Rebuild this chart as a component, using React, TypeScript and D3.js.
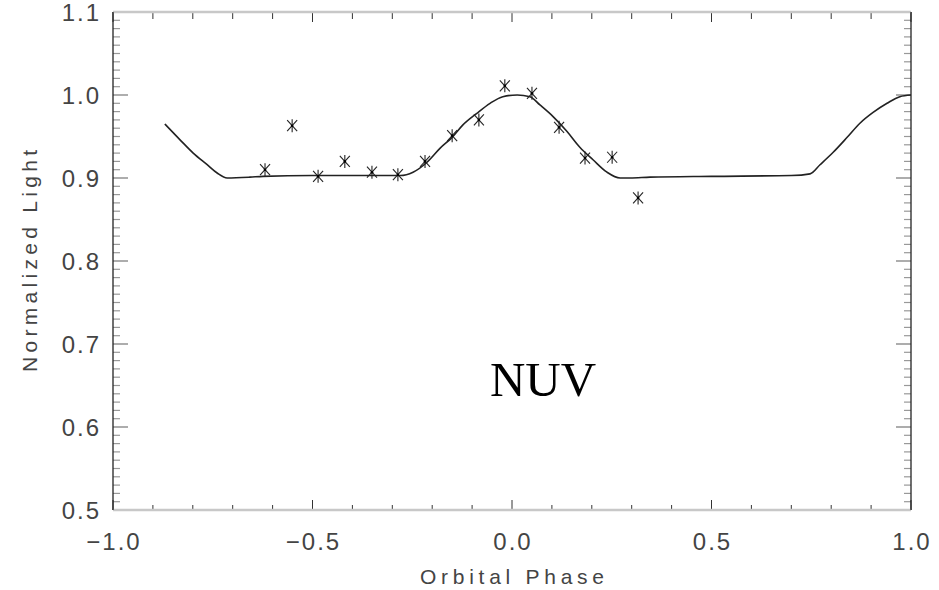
import React from "react";
import * as d3 from "d3";

// observed NUV points
const obsPhase = [-0.619, -0.551, -0.486, -0.419, -0.351, -0.286, -0.218, -0.150, -0.083, -0.018, 0.050, 0.118, 0.183, 0.251, 0.316];
const obsLight = [0.910, 0.963, 0.902, 0.920, 0.907, 0.904, 0.920, 0.951, 0.970, 1.011, 1.002, 0.961, 0.924, 0.925, 0.876];

// model curve
const modelPhase = [-0.870, -0.832, -0.799, -0.764, -0.739, -0.714, -0.657, -0.624, -0.5, -0.35, -0.28, -0.248, -0.213, -0.180, -0.150, -0.123, -0.088, -0.055, -0.023, 0.013, 0.045, 0.070, 0.103, 0.138, 0.170, 0.203, 0.238, 0.271, 0.296, 0.346, 0.5, 0.7, 0.747, 0.772, 0.805, 0.840, 0.872, 0.905, 0.940, 0.972, 1.0];
const modelLight = [0.965, 0.946, 0.930, 0.916, 0.906, 0.900, 0.901, 0.902, 0.903, 0.903, 0.903, 0.907, 0.919, 0.936, 0.949, 0.964, 0.978, 0.990, 0.998, 1.000, 0.998, 0.988, 0.974, 0.956, 0.937, 0.922, 0.907, 0.900, 0.900, 0.901, 0.902, 0.903, 0.905, 0.916, 0.931, 0.949, 0.966, 0.979, 0.990, 0.998, 1.000];

const xMajor = [-1.0, -0.5, 0.0, 0.5, 1.0];
const xLabels = ["\u22121.0", "\u22120.5", "0.0", "0.5", "1.0"];
const yMajor = [0.5, 0.6, 0.7, 0.8, 0.9, 1.0, 1.1];

const W = 939, H = 590;
const left = 113, right = 911, top = 12, bottom = 510;

const App = () => {
  const x = d3.scaleLinear().domain([-1, 1]).range([left, right]);
  const y = d3.scaleLinear().domain([0.5, 1.1]).range([bottom, top]);

  const xMinor = d3.range(-10, 11).map(i => i / 10);
  const yMinor = d3.range(50, 111).map(i => i / 100);
  const isMajorY = (v: number) => Math.abs(v * 10 - Math.round(v * 10)) < 1e-6;
  const isMajorX = (v: number) => Math.abs(v * 2 - Math.round(v * 2)) < 1e-6;

  const line = d3.line<number>()
    .x(d => x(modelPhase[d]))
    .y(d => y(modelLight[d]))
    .curve(d3.curveMonotoneX);
  const modelPath = line(modelPhase.map((_, i) => i)) || "";

  const font = "'Liberation Sans', Arial, sans-serif";

  return (
    <svg width={W} height={H} style={{ position: "absolute", left: 0, top: 0, background: "#fff" }}>
      {/* y ticks, left and right */}
      {yMinor.map((v, i) => {
        const major = isMajorY(v);
        const len = major ? 15 : 7;
        return (
          <g key={"yt" + i} stroke={major ? "#777" : "#999"} strokeWidth={1.2}>
            <line x1={left} x2={left + len} y1={y(v)} y2={y(v)} />
            <line x1={right} x2={right - len} y1={y(v)} y2={y(v)} />
          </g>
        );
      })}
      {/* x ticks, bottom and top */}
      {xMinor.map((v, i) => {
        const major = isMajorX(v);
        return (
          <g key={"xt" + i} stroke="#333" strokeWidth={1}>
            <line x1={x(v)} x2={x(v)} y1={bottom} y2={bottom - (major ? 10 : 5)} />
            <line x1={x(v)} x2={x(v)} y1={top} y2={top + (major ? 10 : 7)} />
          </g>
        );
      })}
      {/* frame */}
      <line x1={left} x2={right} y1={bottom} y2={bottom} stroke="#c8c8c8" strokeWidth={2.5} />
      <line x1={left} x2={right} y1={top} y2={top} stroke="#c8c8c8" strokeWidth={2.5} />
      <line x1={left} x2={left} y1={top} y2={bottom} stroke="#222" strokeWidth={1.3} />
      <line x1={right} x2={right} y1={top} y2={bottom} stroke="#222" strokeWidth={1.3} />

      {/* tick labels */}
      {yMajor.map((v, i) => (
        <text key={"yl" + i} x={101} y={y(v)} dy="0.36em" textAnchor="end"
          fontFamily={font} fontSize={24} fill="#444" letterSpacing={2}>
          {v.toFixed(1)}
        </text>
      ))}
      {xMajor.map((v, i) => (
        <text key={"xl" + i} x={x(v) + 1} y={550} textAnchor="middle"
          fontFamily={font} fontSize={24} fill="#444" letterSpacing={2}>
          {xLabels[i]}
        </text>
      ))}

      {/* axis titles */}
      <text x={512} y={584} textAnchor="middle" fontFamily={font} fontSize={21}
        fill="#444" textLength={184} lengthAdjust="spacing">Orbital Phase</text>
      <text transform="translate(37,261) rotate(-90)" textAnchor="middle" fontFamily={font}
        fontSize={21} fill="#444" textLength={222} lengthAdjust="spacing">Normalized Light</text>

      {/* model curve */}
      <path d={modelPath} fill="none" stroke="#222" strokeWidth={1.6} />

      {/* asterisks */}
      {obsPhase.map((p, i) => {
        const cx = x(p), cy = y(obsLight[i]);
        return (
          <g key={"pt" + i} transform={`translate(${cx},${cy})`} stroke="#222" strokeWidth={1.1}>
            <line x1={0} x2={0} y1={-6.5} y2={6.5} />
            <line x1={-5} x2={5} y1={-5.5} y2={5.5} />
            <line x1={-5} x2={5} y1={5.5} y2={-5.5} />
            <circle r={1.3} fill="#000" stroke="none" />
          </g>
        );
      })}

      <text x={543} y={396} textAnchor="middle" fontFamily="'Liberation Serif', 'Times New Roman', serif"
        fontSize={49} fill="#000">NUV</text>
    </svg>
  );
};

export default App;
